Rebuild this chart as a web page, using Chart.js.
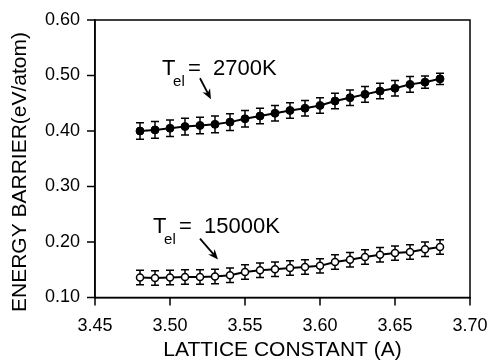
<!DOCTYPE html>
<html>
<head>
<meta charset="utf-8">
<script src="https://cdn.jsdelivr.net/npm/chart.js@4.4.0/dist/chart.umd.min.js"></script>
<style>
  body { margin: 0; background: #fff; }
  canvas { display: block; }
</style>
</head>
<body>
<canvas id="barrierChart" width="492" height="363"></canvas>
<script>
const latticeConstant = [3.48, 3.49, 3.50, 3.51, 3.52, 3.53, 3.54, 3.55, 3.56, 3.57, 3.58,
  3.59, 3.60, 3.61, 3.62, 3.63, 3.64, 3.65, 3.66, 3.67, 3.68];

const barrier2700 = [0.400, 0.402, 0.405, 0.408, 0.410, 0.412, 0.416, 0.422, 0.427, 0.432, 0.437,
  0.441, 0.446, 0.454, 0.460, 0.466, 0.472, 0.477, 0.484, 0.488, 0.494];
const error2700 = [0.015, 0.015, 0.015, 0.015, 0.015, 0.015, 0.015, 0.015, 0.014, 0.014, 0.014,
  0.014, 0.014, 0.014, 0.014, 0.014, 0.014, 0.014, 0.014, 0.011, 0.010];

const barrier15000 = [0.136, 0.135, 0.136, 0.137, 0.137, 0.138, 0.140, 0.146, 0.149, 0.151, 0.153,
  0.155, 0.157, 0.164, 0.168, 0.173, 0.177, 0.180, 0.182, 0.187, 0.191];
const error15000 = [0.013, 0.013, 0.013, 0.013, 0.013, 0.013, 0.013, 0.013, 0.013, 0.013, 0.013,
  0.013, 0.013, 0.013, 0.013, 0.013, 0.013, 0.013, 0.013, 0.013, 0.013];

const xTicks = [3.45, 3.50, 3.55, 3.60, 3.65, 3.70];
const yTicks = [0.10, 0.20, 0.30, 0.40, 0.50, 0.60];

const FONT = "'Liberation Sans', Arial, Helvetica, sans-serif";

// labels "T_el = ..." with arrows, anchored in data units
const notes = [
  { value: "2700K", x: 3.4947, y: 0.5007, arrowFrom: [3.520, 0.4950], arrowTo: [3.5273, 0.4574] },
  { value: "15000K", x: 3.4887, y: 0.2155, arrowFrom: [3.520, 0.2060], arrowTo: [3.5320, 0.1686] },
];

const errorSets = [error2700, error15000];

const toPoints = (ys) => latticeConstant.map((x, i) => ({ x: x, y: ys[i] }));

const errorBars = {
  id: "errorBars",
  beforeDatasetsDraw(chart) {
    const c = chart.ctx;
    const xs = chart.scales.x, ys = chart.scales.y;
    c.save();
    c.strokeStyle = "#000";
    c.lineWidth = 1.5;
    chart.data.datasets.forEach((ds, di) => {
      const errs = errorSets[di];
      ds.data.forEach((p, i) => {
        const px = xs.getPixelForValue(p.x);
        const top = ys.getPixelForValue(p.y + errs[i]);
        const bot = ys.getPixelForValue(p.y - errs[i]);
        c.beginPath();
        c.moveTo(px, top); c.lineTo(px, bot);
        c.moveTo(px - 4, top); c.lineTo(px + 4, top);
        c.moveTo(px - 4, bot); c.lineTo(px + 4, bot);
        c.stroke();
      });
    });
    c.restore();
  },
};

const frameAndNotes = {
  id: "frameAndNotes",
  afterDraw(chart) {
    const c = chart.ctx;
    const a = chart.chartArea;
    const xs = chart.scales.x, ys = chart.scales.y;
    c.save();
    c.strokeStyle = "#000";
    c.fillStyle = "#000";
    c.lineWidth = 1.5;
    c.strokeRect(a.left, a.top, a.right - a.left, a.bottom - a.top);

    // outward tick marks on left and bottom axes
    c.beginPath();
    xs.ticks.forEach((t) => {
      const px = xs.getPixelForValue(t.value);
      c.moveTo(px, a.bottom); c.lineTo(px, a.bottom + 8);
    });
    ys.ticks.forEach((t) => {
      const py = ys.getPixelForValue(t.value);
      c.moveTo(a.left, py); c.lineTo(a.left - 8, py);
    });
    c.stroke();

    // y axis title, drawn by hand so it can sit a bit lower than centre
    c.font = "21px " + FONT;
    c.textAlign = "center";
    c.textBaseline = "middle";
    c.translate(20, 172);
    c.rotate(-Math.PI / 2);
    c.fillText("ENERGY BARRIER(eV/atom)", 0, 0);
    c.setTransform(1, 0, 0, 1, 0, 0);

    c.textAlign = "left";
    c.textBaseline = "alphabetic";
    notes.forEach((n) => {
      const px = xs.getPixelForValue(n.x);
      const py = ys.getPixelForValue(n.y);
      c.font = "22px " + FONT;
      c.fillText("T", px, py);
      c.fillText("=", px + 26, py);
      c.fillText(n.value, px + 51, py);
      c.font = "15px " + FONT;
      c.fillText("el", px + 11, py + 11);

      const x0 = xs.getPixelForValue(n.arrowFrom[0]), y0 = ys.getPixelForValue(n.arrowFrom[1]);
      const x1 = xs.getPixelForValue(n.arrowTo[0]), y1 = ys.getPixelForValue(n.arrowTo[1]);
      const ang = Math.atan2(y1 - y0, x1 - x0);
      c.lineWidth = 1.8;
      c.beginPath();
      c.moveTo(x0, y0);
      c.lineTo(x1 - 6 * Math.cos(ang), y1 - 6 * Math.sin(ang));
      c.stroke();
      c.beginPath();
      c.moveTo(x1, y1);
      c.lineTo(x1 - 11 * Math.cos(ang - 0.4), y1 - 11 * Math.sin(ang - 0.4));
      c.lineTo(x1 - 7 * Math.cos(ang), y1 - 7 * Math.sin(ang));
      c.lineTo(x1 - 11 * Math.cos(ang + 0.4), y1 - 11 * Math.sin(ang + 0.4));
      c.closePath();
      c.fill();
    });
    c.restore();
  },
};

const ctx = document.getElementById("barrierChart").getContext("2d");

const barrierChart = new Chart(ctx, {
  type: "line",
  data: {
    datasets: [
      {
        label: "Tel = 2700K",
        data: toPoints(barrier2700),
        borderColor: "#000",
        borderWidth: 2,
        backgroundColor: "#000",
        pointBackgroundColor: "#000",
        pointBorderColor: "#000",
        pointRadius: 4,
        pointBorderWidth: 1,
        tension: 0,
      },
      {
        label: "Tel = 15000K",
        data: toPoints(barrier15000),
        borderColor: "#000",
        borderWidth: 2,
        backgroundColor: "#fff",
        pointBackgroundColor: "#fff",
        pointBorderColor: "#000",
        pointRadius: 3.5,
        pointBorderWidth: 1.5,
        tension: 0,
      },
    ],
  },
  options: {
    responsive: false,
    animation: false,
    layout: { padding: { top: 20, right: 22, left: 0, bottom: 0 } },
    plugins: {
      legend: { display: false },
      tooltip: { enabled: false },
    },
    scales: {
      x: {
        type: "linear",
        min: 3.45,
        max: 3.70,
        afterBuildTicks: (scale) => { scale.ticks = xTicks.map((v) => ({ value: v })); },
        afterFit: (scale) => {
          scale.height = 65.5;
          scale.paddingLeft = 0;
          scale.paddingRight = 0;
        },
        grid: { display: false, drawTicks: true, tickLength: 8 },
        border: { display: true, color: "#000", width: 1.5 },
        ticks: {
          color: "#000",
          font: { family: FONT, size: 18 },
          padding: 10,
          maxRotation: 0,
          callback: (v) => Number(v).toFixed(2),
        },
        title: {
          display: true,
          text: "LATTICE CONSTANT (A)",
          color: "#000",
          font: { family: FONT, size: 21 },
          padding: { top: 0, bottom: 0 },
        },
      },
      y: {
        type: "linear",
        min: 0.10,
        max: 0.60,
        afterBuildTicks: (scale) => { scale.ticks = yTicks.map((v) => ({ value: v })); },
        afterFit: (scale) => {
          scale.width = 95;
          scale.paddingTop = 0;
          scale.paddingBottom = 0;
        },
        grid: { display: false, drawTicks: true, tickLength: 8 },
        border: { display: true, color: "#000", width: 1.5 },
        ticks: {
          color: "#000",
          font: { family: FONT, size: 18 },
          padding: 7,
          callback: (v) => Number(v).toFixed(2),
        },
        title: { display: false },
      },
    },
  },
  plugins: [errorBars, frameAndNotes],
});
</script>
</body>
</html>
